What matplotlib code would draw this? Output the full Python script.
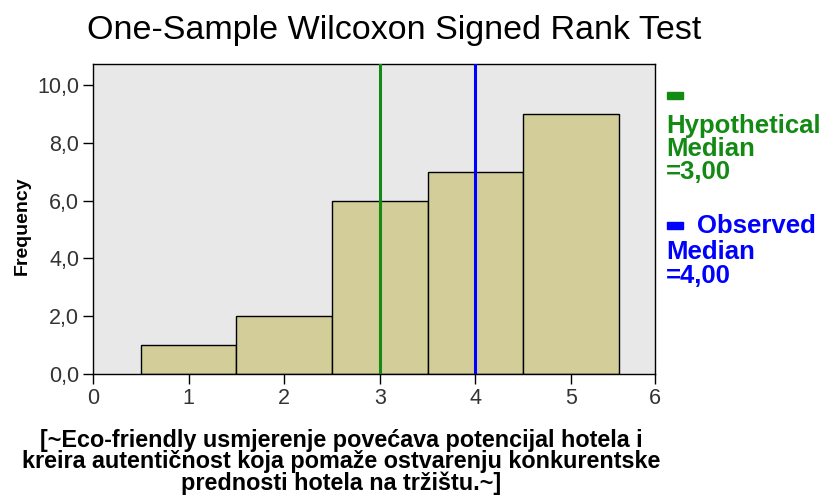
import matplotlib
matplotlib.use("Agg")
import matplotlib.pyplot as plt
from matplotlib.patches import Rectangle

plt.rcParams['font.family'] = ['Liberation Sans', 'DejaVu Sans']

# Histogram data
bin_edges = [0.5, 1.5, 2.5, 3.5, 4.5, 5.5]
counts = [1, 2, 6, 7, 9]
hyp_median = 3.0
obs_median = 4.0
x_ticks = [0, 1, 2, 3, 4, 5]
x_max = 5.88          # SPSS axis stops short of 6 but labels the end "6"
y_ticks = [0, 2, 4, 6, 8, 10]

W, H = 825, 495
fig = plt.figure(figsize=(8.25, 4.95), dpi=100)
ax = fig.add_axes([93 / W, 1 - 374 / H, (655 - 93) / W, (374 - 64) / H])
ax.set_facecolor('#e8e8e8')

widths = [bin_edges[i + 1] - bin_edges[i] for i in range(len(counts))]
ax.bar(bin_edges[:-1], counts, width=widths, align='edge',
       color='#d3ce99', edgecolor='black', linewidth=1.0, zorder=2)

green = '#138a13'
blue = '#0000ff'
ax.axvline(hyp_median, color=green, linewidth=2.2, zorder=3)
ax.axvline(obs_median, color=blue, linewidth=2.2, zorder=3)

ax.set_xlim(0, x_max)
ax.set_ylim(0, 10.73)
ax.set_xticks(x_ticks + [x_max])
ax.set_xticklabels([str(t) for t in x_ticks] + ['6'])
ax.set_yticks(y_ticks)
ax.set_yticklabels([f"{t:.1f}".replace('.', ',') for t in y_ticks])
ax.tick_params(axis='both', labelsize=15.5, length=7, width=1, colors='black',
               labelcolor='#333333', pad=3)
for s in ax.spines.values():
    s.set_linewidth(1.0)

fig.text(22 / W, 1 - 226 / H, 'Frequency', rotation=90, fontsize=14,
         fontweight='bold', ha='center', va='center')
fig.text(341 / W, 1 - 462 / H,
         '[~Eco-friendly usmjerenje povećava potencijal hotela i\n'
         'kreira autentičnost koja pomaže ostvarenju konkurentske\n'
         'prednosti hotela na tržištu.~]',
         fontsize=16.8, fontweight='bold', linespacing=0.9,
         ha='center', va='center')

fig.text(394 / W, 1 - 30 / H, 'One-Sample Wilcoxon Signed Rank Test',
         ha='center', va='center', fontsize=24.5)

# legend-like annotations on the right
fig.patches.append(Rectangle((667 / W, 1 - 99 / H), 16 / W, 7 / H,
                             transform=fig.transFigure, color=green))
fig.text(666 / W, 1 - 149 / H, 'Hypothetical\nMedian\n=3,00', color=green,
         fontsize=18.5, fontweight='bold', va='center', ha='left',
         linespacing=0.95)
fig.patches.append(Rectangle((667 / W, 1 - 229 / H), 16 / W, 7 / H,
                             transform=fig.transFigure, color=blue))
fig.text(697 / W, 1 - 226 / H, 'Observed', color=blue,
         fontsize=18.5, fontweight='bold', va='center', ha='left')
fig.text(666 / W, 1 - 264 / H, 'Median\n=4,00', color=blue,
         fontsize=18.5, fontweight='bold', va='center', ha='left',
         linespacing=0.95)

fig.savefig('out.png', dpi=100)
